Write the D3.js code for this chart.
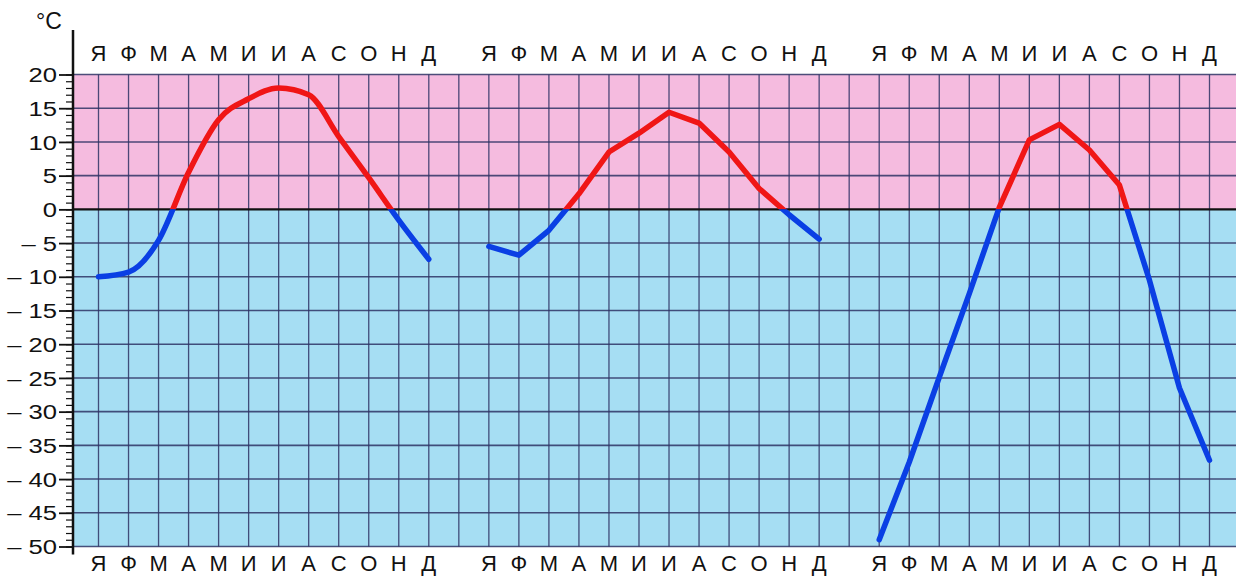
<!DOCTYPE html>
<html>
<head>
<meta charset="utf-8">
<script src="https://cdn.jsdelivr.net/npm/d3@7"></script>
<style>
  html, body { margin: 0; padding: 0; background: #ffffff; }
  svg { display: block; font-family: "Liberation Sans", Arial, sans-serif; }
</style>
</head>
<body>
<svg id="chart" width="1236" height="577"></svg>
<script>
// ---- data ----
const months = ["Я", "Ф", "М", "А", "М", "И", "И", "А", "С", "О", "Н", "Д"];
const yMajorTicks = [20, 15, 10, 5, 0, -5, -10, -15, -20, -25, -30, -35, -40, -45, -50];
const unitLabel = "°C";
// mean monthly temperatures, three places
const station1 = [-10, -9.3, -4.6, 5.5, 13.3, 16.4, 18, 17, 10.8, 4.7, -1.6, -7.4];
const station2 = [-5.5, -6.8, -3.1, 2.3, 8.5, 11.3, 14.4, 12.8, 8.5, 3.1, -0.8, -4.4];
const station3 = [-49, -37.5, -24.9, -12.5, 0.3, 10.3, 12.6, 8.8, 3.6, -10.5, -26.5, -37.2];
const stations = [station1, station2, station3];

// ---- layout ----
const W = 1236, H = 577;
const plotLeft = 73, plotRight = 1236, plotTop = 74.5, plotBottom = 546.5;
const svg = d3.select("#chart");

const x = d3.scaleLinear().domain([0, 37]).range([98.5, 1209.5]);
const y = d3.scaleLinear().domain([-50, 20]).range([plotBottom, plotTop]);

// backgrounds
svg.append("rect").attr("x", plotLeft).attr("y", y(20)).attr("width", plotRight - plotLeft)
  .attr("height", y(0) - y(20)).attr("fill", "#f5bbdf");
svg.append("rect").attr("x", plotLeft).attr("y", y(0)).attr("width", plotRight - plotLeft)
  .attr("height", y(-50) - y(0)).attr("fill", "#a6def3");

// grid
const gridColor = "#2f3466";
const vIdx = d3.range(0, 39);
svg.append("g").selectAll("line").data(vIdx).join("line")
  .attr("x1", d => x(d)).attr("x2", d => x(d))
  .attr("y1", y(20)).attr("y2", y(-50))
  .attr("stroke", gridColor).attr("stroke-width", 1.3).attr("opacity", 0.85);
svg.append("g").selectAll("line").data(yMajorTicks.filter(d => d !== 0)).join("line")
  .attr("x1", plotLeft).attr("x2", plotRight)
  .attr("y1", d => y(d)).attr("y2", d => y(d))
  .attr("stroke", gridColor).attr("stroke-width", 1.6).attr("opacity", 0.85);
// zero line
svg.append("line").attr("x1", plotLeft).attr("x2", plotRight)
  .attr("y1", y(0)).attr("y2", y(0)).attr("stroke", "#111").attr("stroke-width", 2.2);

// clips
const defs = svg.append("defs");
defs.append("clipPath").attr("id", "above").append("rect")
  .attr("x", 0).attr("y", 0).attr("width", W).attr("height", y(0));
defs.append("clipPath").attr("id", "below").append("rect")
  .attr("x", 0).attr("y", y(0)).attr("width", W).attr("height", H - y(0));

const smoothLine = d3.line().x(d => x(d.i)).y(d => y(d.v)).curve(d3.curveMonotoneX);
const straightLine = d3.line().x(d => x(d.i)).y(d => y(d.v)).curve(d3.curveLinear);

stations.forEach((vals, k) => {
  const pts = vals.map((v, m) => ({ i: k * 13 + m, v }));
  const gen = k === 0 ? smoothLine : straightLine;
  [["#f01616", "above"], ["#0a3fe4", "below"]].forEach(([col, clip]) => {
    svg.append("path").datum(pts).attr("d", gen).attr("fill", "none")
      .attr("stroke", col).attr("stroke-width", 5.5).attr("stroke-linecap", "round")
      .attr("stroke-linejoin", "round").attr("clip-path", `url(#${clip})`);
  });
});

// y axis: minor ticks
const minor = d3.range(-50, 21, 1);
const yMinor = d3.axisLeft(y).tickValues(minor).tickSize(7).tickFormat("");
const gMinor = svg.append("g").attr("transform", `translate(${plotLeft},0)`).call(yMinor);
gMinor.select(".domain").remove();
gMinor.selectAll(".tick line").attr("stroke", "#111").attr("stroke-width", 1.2);

const yMajor = d3.axisLeft(y).tickValues(yMajorTicks).tickSize(14).tickPadding(2)
  .tickFormat(d => d < 0 ? "– " + Math.abs(d) : String(d));
const gMajor = svg.append("g").attr("transform", `translate(${plotLeft},0)`).call(yMajor);
gMajor.select(".domain").remove();
gMajor.selectAll(".tick line").attr("stroke", "#111").attr("stroke-width", 1.8);
gMajor.selectAll(".tick text").attr("font-size", 20).attr("fill", "#111")
  .attr("font-family", "Liberation Sans, Arial, sans-serif").attr("dy", "0.36em")
  .each(function () {
    const w = this.getComputedTextLength();
    d3.select(this).attr("textLength", w * 1.28).attr("lengthAdjust", "spacingAndGlyphs");
  });

// axis spine
svg.append("line").attr("x1", plotLeft).attr("x2", plotLeft)
  .attr("y1", 30).attr("y2", plotBottom + 8).attr("stroke", "#111").attr("stroke-width", 2.5);

// unit label
svg.append("text").attr("x", 36).attr("y", 29).attr("font-size", 23).attr("fill", "#111")
  .text(unitLabel);

// month labels top and bottom
const monthPts = [];
stations.forEach((vals, k) => months.forEach((m, j) => monthPts.push({ i: k * 13 + j, m })));
[61, 571].forEach(base => {
  svg.append("g").selectAll("text").data(monthPts).join("text")
    .attr("x", d => x(d.i)).attr("y", base)
    .attr("text-anchor", "middle").attr("font-size", 22).attr("fill", "#111")
    .text(d => d.m);
});
</script>
</body>
</html>
